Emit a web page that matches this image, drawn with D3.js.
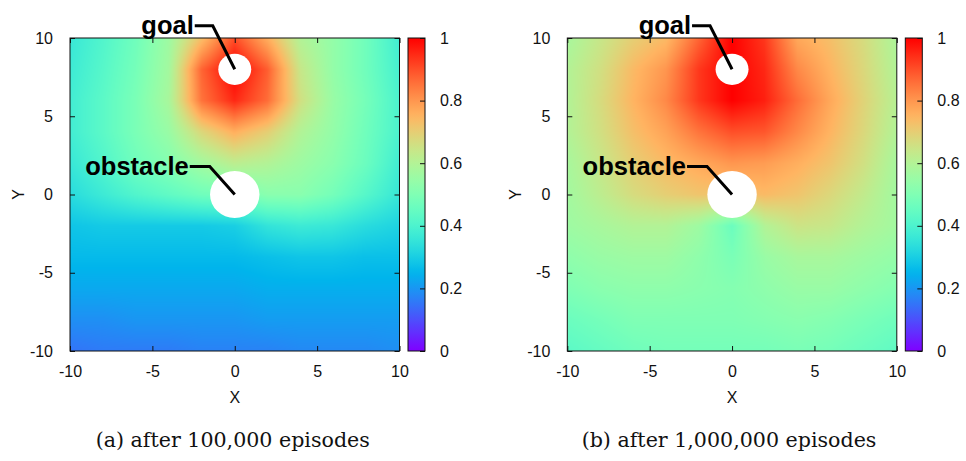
<!DOCTYPE html>
<html>
<head>
<meta charset="utf-8">
<script src="https://cdn.jsdelivr.net/npm/d3@7"></script>
<style>
  body { margin: 0; background: #fff; }
</style>
</head>
<body>
<svg width="966" height="461"></svg>
<script>
// grid nodes of the value map (every 2 units)
var xs = [-10, -8, -6, -4, -2, 0, 2, 4, 6, 8, 10];
var ys = [10, 8, 6, 4, 2, 0, -2, -4, -6, -8, -10];

// (a) after 100,000 episodes, one row per y in ys
var valuesA = [
  [0.36, 0.41, 0.47, 0.56, 0.73, 0.90, 0.76, 0.60, 0.54, 0.47, 0.38],
  [0.37, 0.42, 0.48, 0.57, 0.87, 1.00, 0.88, 0.64, 0.54, 0.47, 0.39],
  [0.38, 0.43, 0.49, 0.58, 0.85, 0.95, 0.86, 0.66, 0.55, 0.48, 0.40],
  [0.38, 0.43, 0.49, 0.55, 0.68, 0.76, 0.70, 0.60, 0.54, 0.47, 0.40],
  [0.36, 0.41, 0.47, 0.51, 0.57, 0.62, 0.60, 0.56, 0.52, 0.46, 0.38],
  [0.33, 0.37, 0.41, 0.44, 0.47, 0.48, 0.52, 0.52, 0.48, 0.42, 0.36],
  [0.28, 0.29, 0.29, 0.29, 0.29, 0.30, 0.35, 0.37, 0.36, 0.33, 0.31],
  [0.26, 0.26, 0.26, 0.26, 0.26, 0.26, 0.27, 0.28, 0.28, 0.27, 0.27],
  [0.23, 0.23, 0.23, 0.23, 0.23, 0.23, 0.24, 0.24, 0.24, 0.24, 0.24],
  [0.19, 0.19, 0.20, 0.20, 0.20, 0.20, 0.21, 0.21, 0.21, 0.21, 0.21],
  [0.15, 0.16, 0.16, 0.16, 0.17, 0.17, 0.17, 0.18, 0.18, 0.18, 0.19]
];

// (b) after 1,000,000 episodes
var valuesB = [
  [0.58, 0.64, 0.70, 0.74, 0.87, 1.00, 0.93, 0.77, 0.73, 0.67, 0.59],
  [0.60, 0.66, 0.74, 0.80, 0.93, 1.00, 0.95, 0.82, 0.75, 0.68, 0.60],
  [0.60, 0.67, 0.75, 0.82, 0.93, 1.00, 0.96, 0.86, 0.77, 0.69, 0.61],
  [0.60, 0.66, 0.73, 0.78, 0.85, 0.90, 0.89, 0.82, 0.75, 0.68, 0.60],
  [0.58, 0.64, 0.70, 0.74, 0.77, 0.80, 0.79, 0.76, 0.72, 0.66, 0.58],
  [0.57, 0.62, 0.67, 0.70, 0.72, 0.72, 0.74, 0.72, 0.68, 0.63, 0.57],
  [0.56, 0.58, 0.60, 0.60, 0.56, 0.46, 0.60, 0.65, 0.64, 0.60, 0.57],
  [0.53, 0.55, 0.56, 0.56, 0.53, 0.49, 0.55, 0.58, 0.58, 0.56, 0.54],
  [0.50, 0.52, 0.53, 0.53, 0.52, 0.51, 0.53, 0.55, 0.55, 0.53, 0.51],
  [0.46, 0.48, 0.50, 0.50, 0.50, 0.50, 0.51, 0.52, 0.51, 0.49, 0.47],
  [0.43, 0.45, 0.47, 0.48, 0.48, 0.48, 0.48, 0.49, 0.48, 0.46, 0.44]
];

var axisTicks = [-10, -5, 0, 5, 10];
var colorTicks = [0, 0.2, 0.4, 0.6, 0.8, 1];
var captions = ["(a) after 100,000 episodes", "(b) after 1,000,000 episodes"];
var goal = {x: 0, y: 8, r: 1, label: "goal"};
var obstacle = {x: 0, y: 0, r: 1.5, label: "obstacle"};

var svg = d3.select("svg"),
    top0 = 38, plotW = 329.5, plotH = 313;

svg.append("rect").attr("width", 966).attr("height", 461).attr("fill", "#fff");

// gnuplot "rainbow" palette (rgbformulae 33,13,10)
var color = d3.scaleSequential(function(t) {
  var r = Math.min(1, Math.abs(2 * t - 0.5)),
      g = Math.max(0, Math.sin(Math.PI * t)),
      b = Math.max(0, Math.cos(Math.PI * t / 2));
  return d3.rgb(r * 255, g * 255, b * 255);
}).domain([0, 1]);

// data coords -> grid index
var ix = d3.scaleLinear().domain([xs[0], xs[xs.length - 1]]).range([0, xs.length - 1]).clamp(true);
var iy = d3.scaleLinear().domain([ys[0], ys[ys.length - 1]]).range([0, ys.length - 1]).clamp(true);

function sample(v, dx, dy) {
  var fx = ix(dx), fy = iy(dy),
      i0 = Math.floor(fx), j0 = Math.floor(fy),
      i1 = Math.min(i0 + 1, xs.length - 1), j1 = Math.min(j0 + 1, ys.length - 1),
      tx = fx - i0, ty = fy - j0;
  var a = v[j0][i0] * (1 - tx) + v[j0][i1] * tx,
      b = v[j1][i0] * (1 - tx) + v[j1][i1] * tx;
  return a * (1 - ty) + b * ty;
}

// plain hyphen minus like gnuplot
var fmt = function(d) { return String(d); };

var panels = [
  {values: valuesA, left: 70, caption: captions[0]},
  {values: valuesB, left: 567.3, caption: captions[1]}
];

var defs = svg.append("defs");
var grad = defs.append("linearGradient").attr("id", "cbar")
    .attr("x1", 0).attr("y1", 1).attr("x2", 0).attr("y2", 0);
grad.selectAll("stop").data(d3.range(0, 1.0001, 0.02)).enter().append("stop")
    .attr("offset", function(d) { return d; })
    .attr("stop-color", function(d) { return color(d); });

panels.forEach(function(p, k) {
  var g = svg.append("g").attr("transform", "translate(" + p.left + "," + top0 + ")");

  var x = d3.scaleLinear().domain([-10, 10]).range([0, plotW]);
  var y = d3.scaleLinear().domain([-10, 10]).range([plotH, 0]);

  // heat map raster
  var W = Math.round(plotW), H = plotH;
  var canvas = document.createElement("canvas");
  canvas.width = W; canvas.height = H;
  var ctx = canvas.getContext("2d");
  var img = ctx.createImageData(W, H);
  for (var py = 0; py < H; py++) {
    for (var px = 0; px < W; px++) {
      var c = d3.rgb(color(sample(p.values, x.invert(px + 0.5), y.invert(py + 0.5))));
      var o = (py * W + px) * 4;
      img.data[o] = c.r; img.data[o + 1] = c.g; img.data[o + 2] = c.b; img.data[o + 3] = 255;
    }
  }
  ctx.putImageData(img, 0, 0);
  g.append("image").attr("width", plotW).attr("height", plotH)
      .attr("preserveAspectRatio", "none")
      .attr("href", canvas.toDataURL());

  // goal and obstacle are blank
  g.selectAll("ellipse.hole").data([goal, obstacle]).enter().append("ellipse")
      .attr("class", "hole")
      .attr("cx", function(d) { return x(d.x); })
      .attr("cy", function(d) { return y(d.y); })
      .attr("rx", function(d) { return x(d.r) - x(0); })
      .attr("ry", function(d) { return y(0) - y(d.r); })
      .attr("fill", "#fff");

  // axes, ticks pointing inward
  function styleAxis(a) {
    a.select(".domain").remove();
    a.selectAll(".tick line").attr("stroke", "#111");
    a.selectAll("text").attr("fill", "#111");
    a.attr("font-family", "Liberation Sans, Arial, sans-serif").attr("font-size", 16);
  }
  g.append("g").attr("transform", "translate(0," + plotH + ")")
      .call(d3.axisBottom(x).tickValues(axisTicks).tickSize(-5).tickPadding(15).tickFormat(fmt))
      .call(styleAxis);
  g.append("g")
      .call(d3.axisTop(x).tickValues(axisTicks).tickSize(-5).tickFormat(""))
      .call(styleAxis);
  g.append("g")
      .call(d3.axisLeft(y).tickValues(axisTicks).tickSize(-5).tickPadding(17).tickFormat(fmt))
      .call(styleAxis);
  g.append("g").attr("transform", "translate(" + plotW + ",0)")
      .call(d3.axisRight(y).tickValues(axisTicks).tickSize(-5).tickFormat(""))
      .call(styleAxis);

  g.append("rect").attr("width", plotW).attr("height", plotH)
      .attr("fill", "none").attr("stroke", "#111").attr("stroke-width", 1);

  g.append("text").attr("x", plotW / 2).attr("y", plotH + 52)
      .attr("text-anchor", "middle")
      .attr("font-family", "Liberation Sans, Arial, sans-serif").attr("font-size", 16)
      .attr("fill", "#111").text("X");
  g.append("text")
      .attr("transform", "translate(-46," + (plotH / 2) + ") rotate(-90)")
      .attr("text-anchor", "middle")
      .attr("font-family", "Liberation Sans, Arial, sans-serif").attr("font-size", 16)
      .attr("fill", "#111").text("Y");

  // labels with leader lines
  var notes = [
    {m: goal, dx: -22, dy: -43.5, len: 18},
    {m: obstacle, dx: -25, dy: -28, len: 20}
  ];
  notes.forEach(function(n) {
    var cx = x(n.m.x), cy = y(n.m.y),
        ex = cx + n.dx, ey = cy + n.dy;
    g.append("path")
        .attr("d", "M" + (ex - n.len) + "," + ey + "H" + ex + "L" + cx + "," + cy)
        .attr("fill", "none").attr("stroke", "#000").attr("stroke-width", 3);
    g.append("text").attr("x", ex - n.len - 1).attr("y", ey + 8)
        .attr("text-anchor", "end")
        .attr("font-family", "Liberation Sans, Arial, sans-serif")
        .attr("font-weight", "bold").attr("font-size", 25.5)
        .attr("fill", "#000").text(n.m.label);
  });

  // color box
  var cb = svg.append("g").attr("transform", "translate(" + (p.left + 338) + "," + top0 + ")");
  var cy = d3.scaleLinear().domain([0, 1]).range([plotH, 0]);
  cb.append("rect").attr("width", 17).attr("height", plotH).attr("fill", "url(#cbar)");
  cb.append("g").attr("transform", "translate(17,0)")
      .call(d3.axisRight(cy).tickValues(colorTicks).tickSize(-5).tickPadding(15).tickFormat(fmt))
      .call(styleAxis);
  cb.append("rect").attr("width", 17).attr("height", plotH)
      .attr("fill", "none").attr("stroke", "#111").attr("stroke-width", 1);

  // caption
  svg.append("text").attr("x", p.left + plotW / 2 - 2 - k)
      .attr("y", 447)
      .attr("text-anchor", "middle")
      .attr("font-family", "DejaVu Serif, serif").attr("font-size", 20.6)
      .attr("fill", "#111").text(p.caption);
});
</script>
</body>
</html>
